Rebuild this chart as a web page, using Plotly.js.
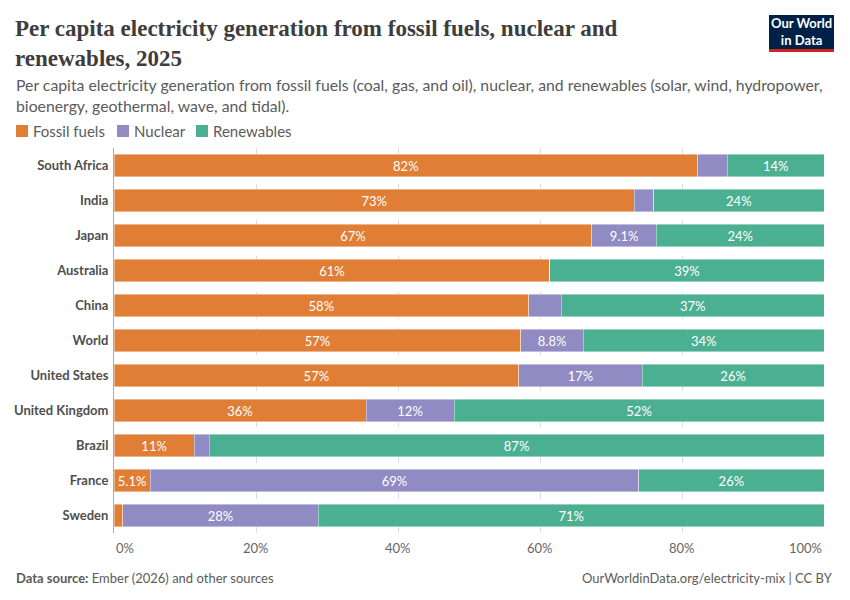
<!DOCTYPE html>
<html>
<head>
<meta charset="utf-8">
<script src="https://cdn.plot.ly/plotly-3.0.1.min.js"></script>
<style>
  html, body { margin: 0; padding: 0; background: #fff; }
  #myDiv { width: 850px; height: 600px; }
</style>
</head>
<body>
<div id="myDiv"></div>
<script>
// shares of per capita generation, 2025 (%)
let countries = ['South Africa', 'India', 'Japan', 'Australia', 'China', 'World',
  'United States', 'United Kingdom', 'Brazil', 'France', 'Sweden'];
let fossil = [82.2, 73.3, 67.3, 61.4, 58.4, 57.3, 57.0, 35.5, 11.3, 5.1, 1.2];
let nuclear = [4.2, 2.7, 9.1, 0, 4.6, 8.8, 17.4, 12.4, 2.1, 68.8, 27.6];
let renewables = [13.6, 24.0, 23.6, 38.6, 37.0, 33.9, 25.6, 52.1, 86.6, 26.1, 71.2];

let seriesNames = ['Fossil fuels', 'Nuclear', 'Renewables'];
let seriesColors = ['#e07e36', '#918bc3', '#4bb092'];

let tickVals = [0, 20, 40, 60, 80, 100];
let tickText = ['0%', '20%', '40%', '60%', '80%', '100%'];

// label text like OWID: 2 significant digits, hidden when the segment is too thin
function labels(vals) {
  let out = [];
  for (let i = 0; i < vals.length; i++) {
    let v = vals[i];
    if (v < 5) out.push('');
    else if (v < 10) out.push(v.toFixed(1) + '%');
    else out.push(Math.round(v) + '%');
  }
  return out;
}

function trace(name, vals, color) {
  return {
    type: 'bar',
    orientation: 'h',
    name: name,
    y: countries,
    x: vals,
    text: labels(vals),
    textposition: 'inside',
    insidetextanchor: 'middle',
    textangle: 0,
    textfont: { family: 'Lato', size: 13, color: '#ffffff' },
    marker: { color: color, line: { color: 'rgba(255,255,255,0.7)', width: 0.6 } },
    hoverinfo: 'skip'
  };
}

let data1 = [
  trace(seriesNames[0], fossil, seriesColors[0]),
  trace(seriesNames[1], nuclear, seriesColors[1]),
  trace(seriesNames[2], renewables, seriesColors[2])
];

// paper coords: plot area is 710 x 385 px, starting at (114, 148)
function px(x) { return (x - 114) / 710; }
function py(y) { return 1 + (148 - y) / 385; }

let txt = '#5b5b5b';
let annotations = [
  { text: 'Per capita electricity generation from fossil fuels, nuclear and<br>renewables, 2025',
    xref: 'paper', yref: 'paper', x: px(13), y: py(14), xanchor: 'left', yanchor: 'top', align: 'left',
    showarrow: false, font: { family: 'Liberation Serif', size: 23, color: '#3d3d3d', weight: 700 } },
  { text: 'Per capita electricity generation from fossil fuels (coal, gas, and oil), nuclear, and renewables (solar, wind, hydropower,<br>bioenergy, geothermal, wave, and tidal).',
    xref: 'paper', yref: 'paper', x: px(14), y: py(73), xanchor: 'left', yanchor: 'top', align: 'left',
    showarrow: false, font: { family: 'Lato', size: 15.8, color: txt } },
  { text: '<b>Data source:</b> Ember (2026) and other sources',
    xref: 'paper', yref: 'paper', x: px(14), y: py(568), xanchor: 'left', yanchor: 'top', align: 'left',
    showarrow: false, font: { family: 'Lato', size: 13, color: txt } },
  { text: 'OurWorldinData.org/electricity-mix | CC BY',
    xref: 'paper', yref: 'paper', x: px(835), y: py(568), xanchor: 'right', yanchor: 'top', align: 'right',
    showarrow: false, font: { family: 'Lato', size: 13, color: txt } },
  { text: 'Our World<br>in Data',
    xref: 'paper', yref: 'paper', x: px(801), y: py(32), xanchor: 'center', yanchor: 'middle', align: 'center',
    showarrow: false, font: { family: 'Lato', size: 13, color: '#ffffff', weight: 700 } }
];

let shapes = [
  { type: 'rect', xref: 'paper', yref: 'paper', x0: px(769), x1: px(834), y0: py(49), y1: py(15),
    fillcolor: '#002147', line: { width: 0 }, layer: 'below' },
  { type: 'rect', xref: 'paper', yref: 'paper', x0: px(769), x1: px(834), y0: py(52), y1: py(49),
    fillcolor: '#ce261e', line: { width: 0 }, layer: 'below' }
];

// legend row: coloured square + label
let legendX = [16, 117, 196];
for (let i = 0; i < seriesNames.length; i++) {
  shapes.push({ type: 'rect', xref: 'paper', yref: 'paper',
    x0: px(legendX[i]), x1: px(legendX[i] + 12), y0: py(137), y1: py(125),
    fillcolor: seriesColors[i], line: { width: 0 }, layer: 'below' });
  annotations.push({ text: seriesNames[i], xref: 'paper', yref: 'paper',
    x: px(legendX[i] + 15), y: py(131), xanchor: 'left', yanchor: 'middle',
    showarrow: false, font: { family: 'Lato', size: 15, color: txt } });
}

// x tick labels: first left-aligned, last right-aligned, others centred
for (let i = 0; i < tickVals.length; i++) {
  let anchor = 'center';
  if (i === 0) anchor = 'left';
  if (i === tickVals.length - 1) anchor = 'right';
  annotations.push({
    text: tickText[i], x: tickVals[i], xref: 'x', y: 0, yref: 'paper',
    xanchor: anchor, yanchor: 'top', yshift: -5, showarrow: false,
    font: { family: 'Lato', size: 13, color: '#666666' }
  });
}

let layout = {
  width: 850,
  height: 600,
  barmode: 'stack',
  bargap: 0.36,
  margin: { l: 114, r: 26, t: 148, b: 67 },
  paper_bgcolor: '#ffffff',
  plot_bgcolor: '#ffffff',
  showlegend: false,
  xaxis: {
    range: [0, 100],
    tickvals: tickVals,
    showticklabels: false,
    showgrid: true,
    gridcolor: '#dddddd',
    griddash: 'dash',
    gridwidth: 1,
    zeroline: false,
    fixedrange: true
  },
  yaxis: {
    autorange: 'reversed',
    type: 'category',
    showline: true,
    linecolor: '#aaaaaa',
    linewidth: 1,
    ticks: '',
    ticklabelstandoff: 2,
    tickfont: { family: 'Lato', size: 13, color: '#4e4e4e', weight: 700 },
    fixedrange: true
  },
  shapes: shapes,
  annotations: annotations
};

Plotly.newPlot('myDiv', data1, layout, { displayModeBar: false, staticPlot: true });
</script>
</body>
</html>
